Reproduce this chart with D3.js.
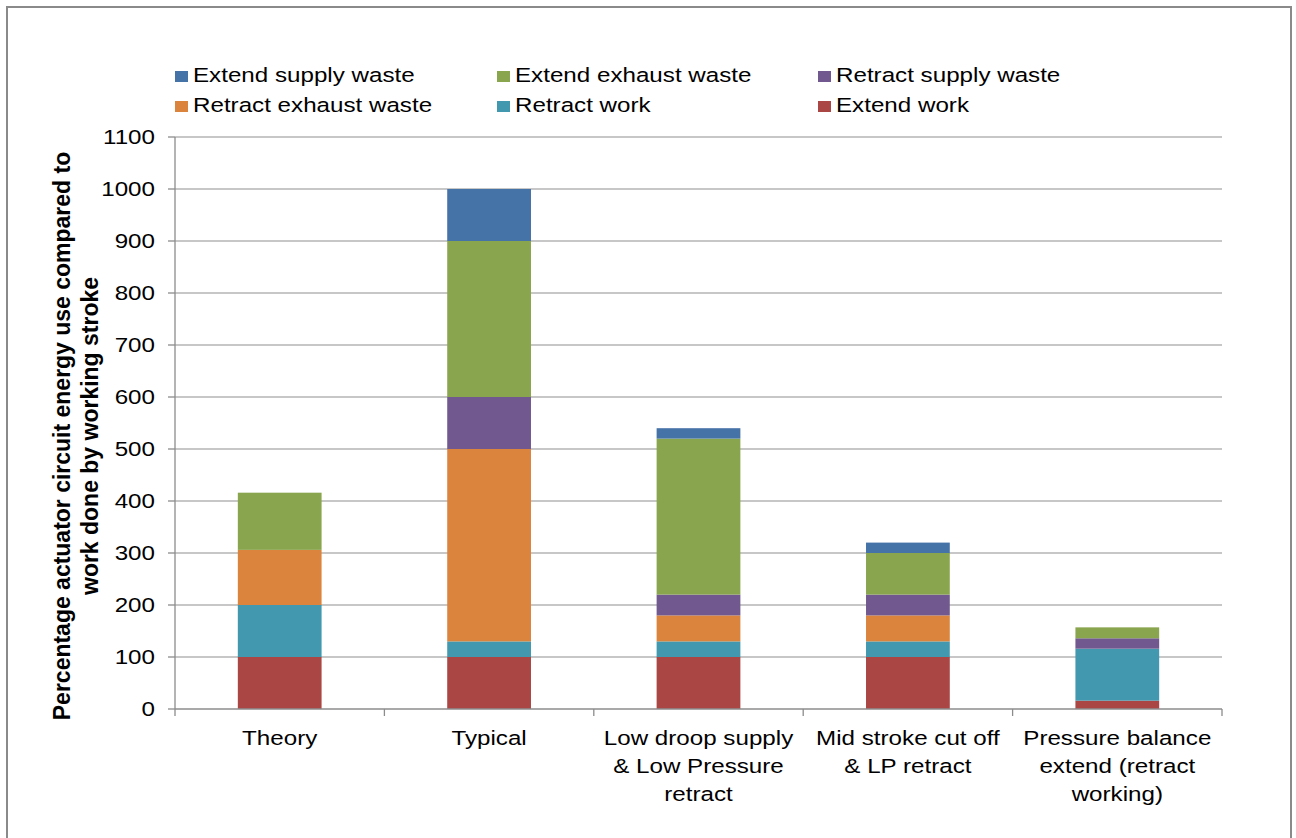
<!DOCTYPE html>
<html>
<head>
<meta charset="utf-8">
<script src="https://cdn.jsdelivr.net/npm/d3@7"></script>
<style>
  html, body { margin: 0; padding: 0; background: #fff; }
  svg { display: block; }
  text { font-family: "Liberation Sans", Arial, sans-serif; fill: #000; }
</style>
</head>
<body>
<svg id="chart" width="1296" height="838"></svg>
<script>
// Categories (one entry per bar, split into display lines)
const categories = ["Theory", "Typical", "Low droop supply", "Mid stroke cut off", "Pressure balance"];
const categoryLines = [
  ["Theory"],
  ["Typical"],
  ["Low droop supply", "& Low Pressure", "retract"],
  ["Mid stroke cut off", "& LP retract"],
  ["Pressure balance", "extend (retract", "working)"]
];

// Series values, listed bottom to top of each stack
const extendWork          = [100, 100, 100, 100, 16];
const retractWork         = [100,  30,  30,  30, 100];
const retractExhaustWaste = [106, 370,  50,  50,   0];
const retractSupplyWaste  = [  0, 100,  40,  40,  20];
const extendExhaustWaste  = [110, 300, 300,  80,  21];
const extendSupplyWaste   = [  0, 100,  20,  20,   0];

const seriesNames = ["Extend work", "Retract work", "Retract exhaust waste",
                     "Retract supply waste", "Extend exhaust waste", "Extend supply waste"];
const seriesValues = [extendWork, retractWork, retractExhaustWaste,
                      retractSupplyWaste, extendExhaustWaste, extendSupplyWaste];
const seriesColors = ["#AA4643", "#4198AF", "#DB843D", "#71588F", "#89A54E", "#4572A7"];

// Legend order (two rows of three)
const legendOrder = ["Extend supply waste", "Extend exhaust waste", "Retract supply waste",
                     "Retract exhaust waste", "Retract work", "Extend work"];

const yTicks = [0, 100, 200, 300, 400, 500, 600, 700, 800, 900, 1000, 1100];
const yTitleLines = ["Percentage actuator circuit energy use compared to",
                     "work done by working stroke"];

// Text in this chart is drawn wide; glyphs are stretched horizontally
const SX = 1.24;
const FS = 19.5;

const svg = d3.select("#chart");

// Outer frame
svg.append("rect")
  .attr("x", 7).attr("y", 7).attr("width", 1284).attr("height", 845)
  .attr("fill", "#fff").attr("stroke", "#8a8a8a").attr("stroke-width", 2);

const plot = { left: 175, right: 1222, top: 137, bottom: 709 };

const x = d3.scaleBand()
  .domain(categories)
  .range([plot.left, plot.right])
  .paddingInner(0.6)
  .paddingOuter(0.3);

const y = d3.scaleLinear().domain([0, 1100]).range([plot.bottom, plot.top]);

// Gridlines
svg.append("g").selectAll("line")
  .data(yTicks.filter(d => d > 0))
  .join("line")
  .attr("x1", plot.left).attr("x2", plot.right)
  .attr("y1", d => y(d)).attr("y2", d => y(d))
  .attr("stroke", "#b4b4b4").attr("stroke-width", 1.3);

// Stacked bars
const table = categories.map((c, i) => {
  const row = { category: c };
  seriesNames.forEach((s, k) => { row[s] = seriesValues[k][i]; });
  return row;
});
const stacked = d3.stack().keys(seriesNames)(table);

svg.append("g").selectAll("g")
  .data(stacked)
  .join("g")
  .attr("fill", (d, k) => seriesColors[k])
  .selectAll("rect")
  .data(d => d.filter(p => p[1] - p[0] > 0))
  .join("rect")
  .attr("x", p => x(p.data.category))
  .attr("width", x.bandwidth())
  .attr("y", p => y(p[1]))
  .attr("height", p => y(p[0]) - y(p[1]));

// Axis lines and tick marks
const axisColor = "#8c8c8c";
svg.append("line")
  .attr("x1", plot.left).attr("x2", plot.left)
  .attr("y1", plot.top).attr("y2", plot.bottom)
  .attr("stroke", axisColor).attr("stroke-width", 1.3);
svg.append("line")
  .attr("x1", plot.left).attr("x2", plot.right)
  .attr("y1", plot.bottom).attr("y2", plot.bottom)
  .attr("stroke", axisColor).attr("stroke-width", 1.3);

svg.append("g").selectAll("line")
  .data(yTicks)
  .join("line")
  .attr("x1", plot.left - 7).attr("x2", plot.left)
  .attr("y1", d => y(d)).attr("y2", d => y(d))
  .attr("stroke", axisColor).attr("stroke-width", 1.3);

const boundaries = d3.range(categories.length + 1).map(i => plot.left + i * (plot.right - plot.left) / categories.length);
svg.append("g").selectAll("line")
  .data(boundaries)
  .join("line")
  .attr("x1", d => d).attr("x2", d => d)
  .attr("y1", plot.bottom).attr("y2", plot.bottom + 7)
  .attr("stroke", axisColor).attr("stroke-width", 1.3);

// Helper: horizontally stretched text
function wideText(parent, tx, ty, str, anchor, size, weight) {
  const g = parent.append("g").attr("transform", `translate(${tx},${ty}) scale(${SX},1)`);
  g.append("text")
    .attr("text-anchor", anchor)
    .attr("font-size", size || FS)
    .attr("font-weight", weight || "normal")
    .text(str);
  return g;
}

// Y tick labels
const yLabels = svg.append("g");
yTicks.forEach(t => wideText(yLabels, 155, y(t) + 7, String(t), "end"));

// Category labels
const xLabels = svg.append("g");
categories.forEach((c, i) => {
  const cx = x(c) + x.bandwidth() / 2;
  categoryLines[i].forEach((ln, j) => wideText(xLabels, cx, 745 + j * 28, ln, "middle"));
});

// Y axis title (rotated, two lines)
const yTitle = svg.append("g");
yTitleLines.forEach((ln, j) => {
  yTitle.append("g")
    .attr("transform", `translate(${70 + j * 28},436) scale(1.08,1) rotate(-90)`)
    .append("text")
    .attr("text-anchor", "middle")
    .attr("font-size", 23)
    .attr("font-weight", "bold")
    .text(ln);
});

// Legend
const legendCols = [175, 497, 818];
const legendRows = [82, 112];
const legend = svg.append("g");
legendOrder.forEach((name, i) => {
  const k = seriesNames.indexOf(name);
  const lx = legendCols[i % 3];
  const ly = legendRows[Math.floor(i / 3)];
  legend.append("rect")
    .attr("x", lx).attr("y", ly - 11)
    .attr("width", 13).attr("height", 11)
    .attr("fill", seriesColors[k]);
  wideText(legend, lx + 18, ly, name, "start");
});
</script>
</body>
</html>
